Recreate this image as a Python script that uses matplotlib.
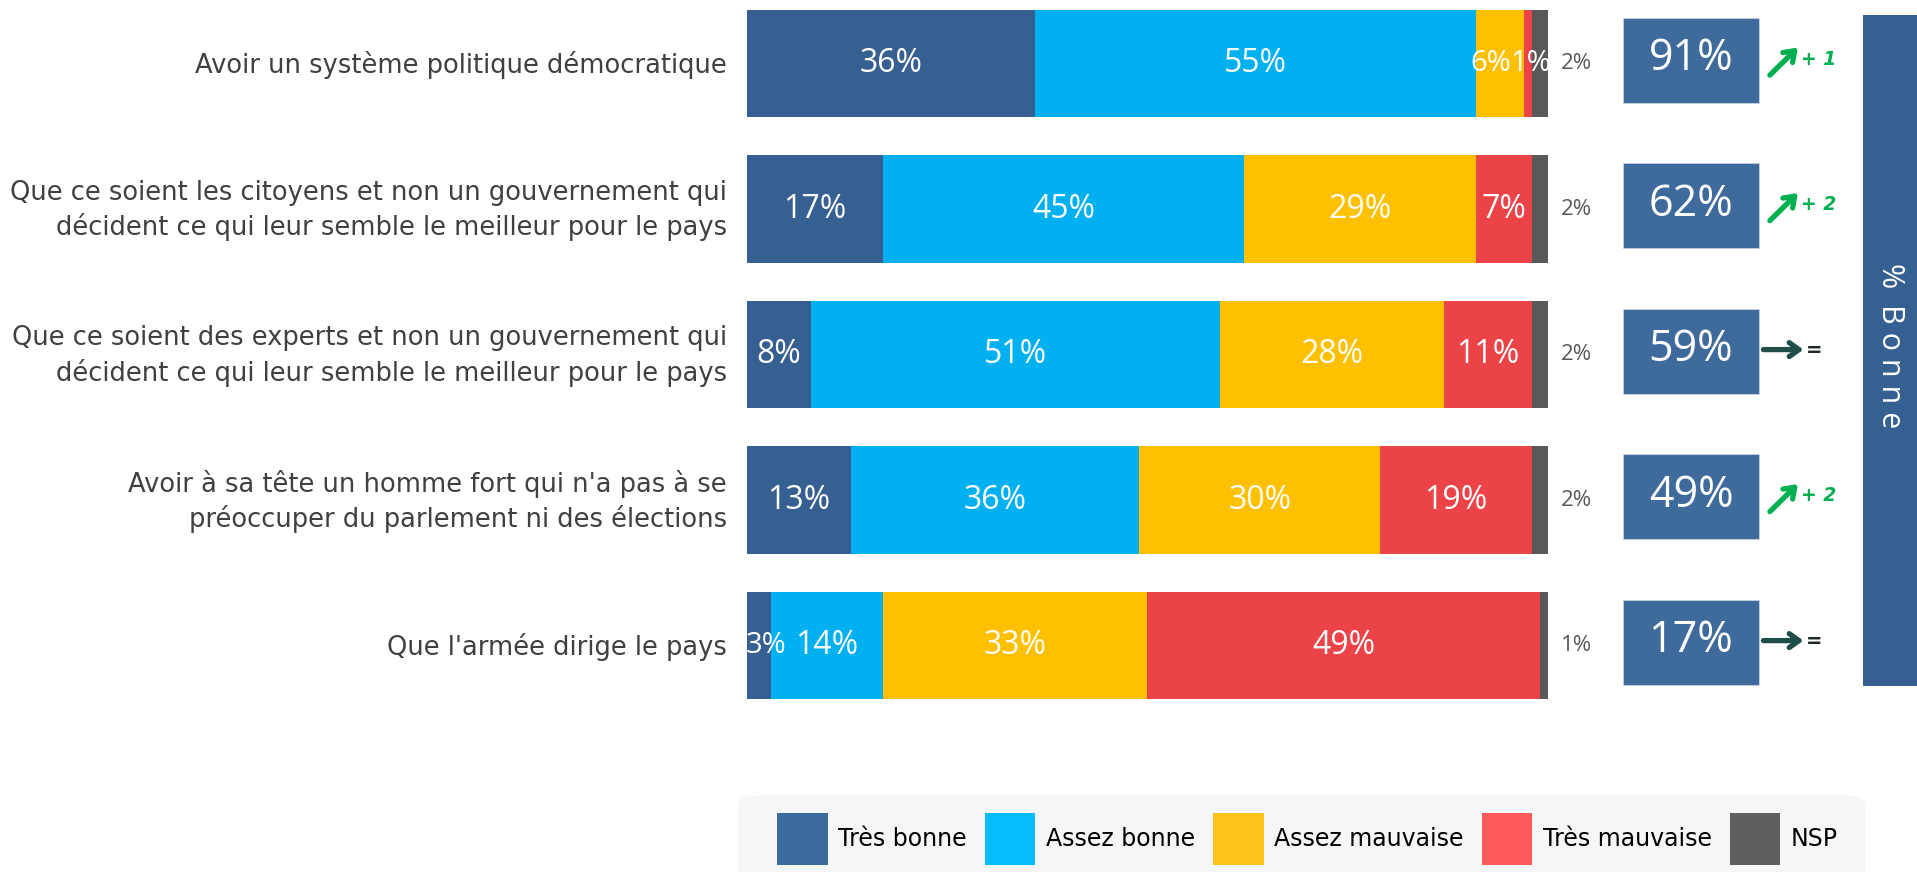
import matplotlib
matplotlib.use('Agg')
import matplotlib.pyplot as plt
from matplotlib.patches import FancyBboxPatch, Rectangle

questions = [
    "Avoir un système politique démocratique",
    "Que ce soient les citoyens et non un gouvernement qui\ndécident ce qui leur semble le meilleur pour le pays",
    "Que ce soient des experts et non un gouvernement qui\ndécident ce qui leur semble le meilleur pour le pays",
    "Avoir à sa tête un homme fort qui n'a pas à se\npréoccuper du parlement ni des élections",
    "Que l'armée dirige le pays",
]
tres_bonne = [36, 17, 8, 13, 3]
assez_bonne = [55, 45, 51, 36, 14]
assez_mauvaise = [6, 29, 28, 30, 33]
tres_mauvaise = [1, 7, 11, 19, 49]
nsp = [2, 2, 2, 2, 1]
evolution = ['+1', '+2', '=', '+2', '=']

series = [
    ("Très bonne", tres_bonne, '#366092'),
    ("Assez bonne", assez_bonne, '#00B0F0'),
    ("Assez mauvaise", assez_mauvaise, '#FFC000'),
    ("Très mauvaise", tres_mauvaise, '#EC4349'),
    ("NSP", nsp, '#595959'),
]
legend_colors = ['#3D6A9C', '#06BDFB', '#FFC41C', '#FF5A5A', '#5F5F5F']

label_font = ['Open Sans', 'DejaVu Sans']

fig = plt.figure(figsize=(19.17, 8.72), dpi=100)
# axes spans the full width so the side boxes can live in data coordinates
ax = fig.add_axes([0, 0.1846, 1, 0.8093])
ax.set_xlim(-93.26, 146.07)
ax.set_ylim(4.45, -0.4)
ax.axis('off')

ypos = list(range(len(questions)))
left = [0] * len(questions)
handles = []
for i, (name, vals, color) in enumerate(series):
    bars = ax.barh(ypos, vals, left=left, height=0.74, color=color, label=name)
    handles.append(bars)
    for y, l, v in zip(ypos, left, vals):
        if name == "NSP":
            ax.text(103.5, y, f"{v}%", ha='center', va='center', fontsize=16,
                    color='#595959', family=label_font)
            continue
        xc = l + v / 2
        size = 23
        # thin segments: keep the labels inside the bar and apart
        if v <= 6 and l + v > 90:
            size = 21
            xc += -1.1 if v > 2 else 0.4
        elif v < 5 and l == 0:
            size = 21
            xc = 2.4
        ax.text(xc, y, f"{v}%", ha='center', va='center', fontsize=size,
                color='white', family=label_font)
    left = [l + v for l, v in zip(left, vals)]

for y, q in zip(ypos, questions):
    ax.text(-2.5, y + 0.01, q, ha='right', va='center', fontsize=18.5, color='#404040',
            linespacing=1.33, family='DejaVu Sans')

# total "bonne" boxes
bonne = [a + b for a, b in zip(tres_bonne, assez_bonne)]
for y, b in zip(ypos, bonne):
    ax.add_patch(Rectangle((109.4, y - 0.024 - 0.292), 16.9, 0.584,
                           facecolor='#3E6A9C', edgecolor='#C9D3E0', lw=0.6))
    ax.text(117.85, y - 0.03, f"{b}%", ha='center', va='center', fontsize=31,
            color='white', family=label_font)

for y, ev in zip(ypos, evolution):
    if ev == '=':
        ax.annotate('', xy=(131.9, y - 0.034), xytext=(126.9, y - 0.034),
                    arrowprops=dict(arrowstyle='->,head_length=0.7,head_width=0.5',
                                    color='#1F4E48', lw=3.8, shrinkA=0, shrinkB=0))
        ax.text(132.2, y - 0.03, '=', ha='left', va='center', fontsize=14,
                fontweight='bold', color='#1F2A28')
    else:
        ax.annotate('', xy=(131.2, y - 0.11), xytext=(127.7, y + 0.08),
                    arrowprops=dict(arrowstyle='->,head_length=0.7,head_width=0.5',
                                    color='#00B050', lw=3.8, shrinkA=0, shrinkB=0))
        ax.text(131.6, y - 0.03, ev.replace('+', '+ '), ha='left', va='center',
                fontsize=13.5, fontweight='bold', fontstyle='italic', color='#00B050')

# vertical side band
ax.add_patch(Rectangle((139.3, -0.333), 7.0, 4.61, facecolor='#366092',
                       edgecolor='none', clip_on=False))
ax.text(142.65, 1.94, "%  B o n n e", rotation=-90, ha='center', va='center',
        fontsize=22, color='white', family=label_font)

# legend on a light rounded panel
fig.add_artist(FancyBboxPatch((738 / 1917, -0.05), (1865 - 738) / 1917, 0.138,
                              boxstyle='round,pad=0,rounding_size=0.012',
                              transform=fig.transFigure, facecolor='#F5F6F8',
                              edgecolor='none', zorder=0))
leg = fig.legend(handles, [s[0] for s in series], ncol=5, loc='upper left',
                 bbox_to_anchor=(777 / 1917, 1 - 813 / 872), frameon=False,
                 borderpad=0, borderaxespad=0, handlelength=2.15, handleheight=3.0,
                 handletextpad=0.45, columnspacing=0.75,
                 prop={'family': 'DejaVu Sans', 'size': 17})
for patch, c in zip(leg.get_patches(), legend_colors):
    patch.set_facecolor(c)

fig.savefig('out.png', dpi=100)
